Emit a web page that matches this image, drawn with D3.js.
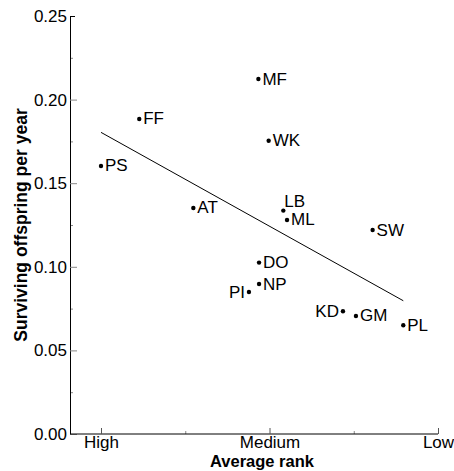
<!DOCTYPE html>
<html>
<head>
<meta charset="utf-8">
<script src="https://cdn.jsdelivr.net/npm/d3@7"></script>
<style>
  body { margin: 0; background: #fff; }
  text { font-family: 'Liberation Sans', Arial, sans-serif; fill: #000; }
</style>
</head>
<body>
<div id="chart"></div>
<script>
// Groups and their values (rank: 1 = High, 2 = Medium, 3 = Low)
const groups = ['PS', 'FF', 'MF', 'WK', 'AT', 'LB', 'ML', 'SW', 'DO', 'NP', 'PI', 'KD', 'GM', 'PL'];
const ranks = [1.0, 1.227, 1.934, 1.995, 1.548, 2.082, 2.104, 2.612, 1.938, 1.938, 1.878, 2.436, 2.513, 2.794];
const offspring = [0.1603, 0.1884, 0.2123, 0.1754, 0.1352, 0.1336, 0.128, 0.122, 0.1025, 0.0897, 0.0849, 0.0734, 0.0706, 0.065];
const labelSide = ['right', 'right', 'right', 'right', 'right', 'above', 'right', 'right', 'right', 'right', 'left', 'left', 'right', 'right'];

// Regression line ends
const fitX = [1.0, 2.794];
const fitY = [0.1804, 0.0797];

const rankTicks = [1, 2, 3];
const rankLabels = ['High', 'Medium', 'Low'];
const rankMinor = [1.5, 2.5];
const yTicks = [0, 0.05, 0.1, 0.15, 0.2, 0.25];
const yMinor = [0.025, 0.075, 0.125, 0.175, 0.225];

const svgWidth = 454;
const svgHeight = 471;
const plotLeft = 70;
const plotTop = 16;
const plotBottom = 434;

const svg = d3
  .select('#chart')
  .append('svg')
  .attr('width', svgWidth)
  .attr('height', svgHeight);

// Scales
const x = d3.scaleLinear().domain([1, 3]).range([101, 438]);
const y = d3.scaleLinear().domain([0, 0.25]).range([plotBottom, plotTop]);

// Minor ticks first
svg
  .append('g')
  .attr('transform', 'translate(' + plotLeft + ',0)')
  .call(d3.axisLeft(y).tickValues(yMinor).tickSize(-3).tickFormat(''))
  .call((g) => g.select('.domain').remove())
  .call((g) => g.selectAll('line').attr('stroke', '#888'));

svg
  .append('g')
  .attr('transform', 'translate(0,' + plotBottom + ')')
  .call(d3.axisBottom(x).tickValues(rankMinor).tickSize(-3).tickFormat(''))
  .call((g) => g.select('.domain').remove())
  .call((g) => g.selectAll('line').attr('stroke', '#888'));

// Y axis
const yAxis = svg
  .append('g')
  .attr('transform', 'translate(' + plotLeft + ',0)')
  .call(
    d3
      .axisLeft(y)
      .tickValues(yTicks)
      .tickSizeInner(-7)
      .tickSizeOuter(0)
      .tickPadding(3)
      .tickFormat(d3.format('.2f')),
  );
yAxis.select('.domain').attr('stroke', '#000');
yAxis.selectAll('.tick line').attr('stroke', '#888');
yAxis.selectAll('.tick:last-of-type line').attr('stroke', '#000').attr('x2', 5);
yAxis
  .selectAll('text')
  .style('font-size', '17px')
  .attr('font-family', null);

// X axis
const xAxis = svg
  .append('g')
  .attr('transform', 'translate(0,' + plotBottom + ')')
  .call(
    d3
      .axisBottom(x)
      .tickValues(rankTicks)
      .tickSizeInner(-6)
      .tickSizeOuter(0)
      .tickPadding(2)
      .tickFormat((d, i) => rankLabels[i]),
  );
xAxis.select('.domain').attr('d', 'M' + plotLeft + ',0H' + x(3)).attr('stroke', '#000');
xAxis.selectAll('.tick line').attr('stroke', '#555');
xAxis
  .selectAll('text')
  .style('font-size', '17px')
  .attr('font-family', null);

// Regression line
svg
  .append('line')
  .attr('x1', x(fitX[0]))
  .attr('y1', y(fitY[0]))
  .attr('x2', x(fitX[1]))
  .attr('y2', y(fitY[1]))
  .attr('stroke', '#000')
  .attr('stroke-width', 1);

// Points
const data = groups.map((g, i) => ({
  name: g,
  rank: ranks[i],
  value: offspring[i],
  side: labelSide[i],
}));

svg
  .selectAll('.dot')
  .data(data)
  .enter()
  .append('circle')
  .attr('class', 'dot')
  .attr('cx', (d) => x(d.rank))
  .attr('cy', (d) => y(d.value))
  .attr('r', 2.2)
  .style('fill', '#000');

svg
  .selectAll('.label')
  .data(data)
  .enter()
  .append('text')
  .attr('class', 'label')
  .attr('x', (d) => {
    if (d.side === 'left') return x(d.rank) - 4;
    if (d.side === 'above') return x(d.rank) + 1;
    return x(d.rank) + 4;
  })
  .attr('y', (d) => (d.side === 'above' ? y(d.value) - 4 : y(d.value) + 5.5))
  .attr('text-anchor', (d) => (d.side === 'left' ? 'end' : 'start'))
  .style('font-size', '17px')
  .text((d) => d.name);

// Axis titles
svg
  .append('text')
  .attr('x', 262)
  .attr('y', 467)
  .attr('text-anchor', 'middle')
  .style('font-size', '16.5px')
  .style('font-weight', 'bold')
  .text('Average rank');

svg
  .append('text')
  .attr('x', -(plotTop + plotBottom) / 2)
  .attr('y', 27)
  .attr('text-anchor', 'middle')
  .attr('transform', 'rotate(-90)')
  .style('font-size', '17.5px')
  .style('font-weight', 'bold')
  .text('Surviving offspring per year');
</script>
</body>
</html>
